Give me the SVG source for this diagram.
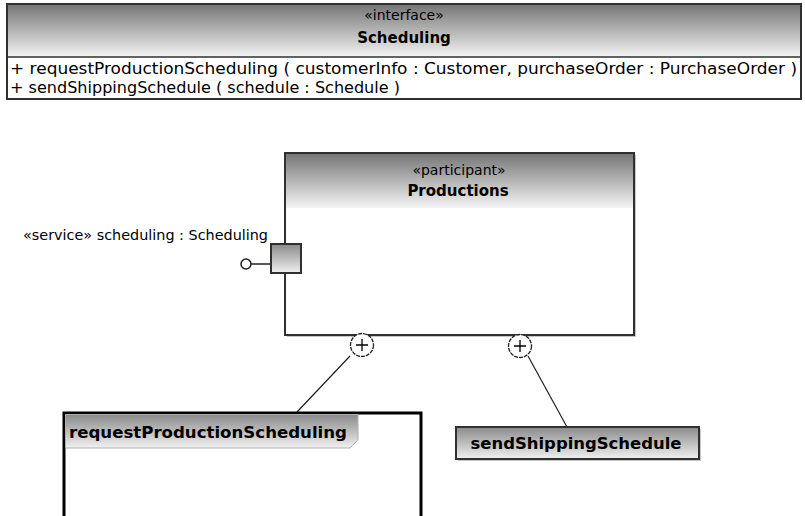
<svg xmlns="http://www.w3.org/2000/svg" width="805" height="516" viewBox="0 0 805 516">
<style>
.t{font-family:"DejaVu Sans","Liberation Sans",sans-serif;fill:#000}
.b{font-weight:bold}
.box{stroke:#303030;stroke-width:2}
.shadow{fill:#c8c8c8}
.conn{stroke:#202020;stroke-width:1.2;fill:none}
.plus{fill:#fff;stroke:#202020;stroke-width:1.3;stroke-dasharray:4 1}
</style>
<defs>
<linearGradient id="hdr" x1="0" y1="0" x2="0" y2="1">
<stop offset="0" stop-color="#777"/>
<stop offset="1" stop-color="#f4f4f4"/>
</linearGradient>
<linearGradient id="gbox" x1="0" y1="0" x2="0" y2="1">
<stop offset="0" stop-color="#8a8a8a"/>
<stop offset="1" stop-color="#f0f0f0"/>
</linearGradient>
</defs>

<g id="scheduling-interface">
<rect x="7" y="4" width="794" height="95" fill="#fff" class="box"/>
<rect x="8" y="5" width="792" height="52" fill="url(#hdr)"/>
<line x1="7" y1="57" x2="801" y2="57" stroke="#303030" stroke-width="1.5"/>
<text class="t" x="404" y="20" font-size="14" text-anchor="middle">«interface»</text>
<text class="t b" x="404" y="43" font-size="15" text-anchor="middle">Scheduling</text>
<text class="t" x="10" y="74" font-size="15" textLength="787" lengthAdjust="spacingAndGlyphs">+ requestProductionScheduling ( customerInfo : Customer, purchaseOrder : PurchaseOrder )</text>
<text class="t" x="10" y="93" font-size="15" textLength="390" lengthAdjust="spacingAndGlyphs">+ sendShippingSchedule ( schedule : Schedule )</text>
</g>

<g id="productions">
<rect x="287" y="155" width="349" height="182" class="shadow"/>
<rect x="285" y="153" width="349" height="182" fill="#fff" class="box"/>
<rect x="286" y="154" width="347" height="54" fill="url(#hdr)"/>
<text class="t" x="459" y="175" font-size="14" text-anchor="middle">«participant»</text>
<text class="t b" x="458" y="196" font-size="15" text-anchor="middle">Productions</text>
</g>

<g id="scheduling-port">
<line x1="251" y1="264" x2="271" y2="264" stroke="#202020" stroke-width="1.5"/>
<circle cx="246" cy="264" r="5" fill="#fff" stroke="#202020" stroke-width="1.5"/>
<rect x="271" y="244" width="30" height="29" fill="url(#gbox)" class="box"/>
<text class="t" x="23" y="240" font-size="14" textLength="245" lengthAdjust="spacingAndGlyphs">«service» scheduling : Scheduling</text>
</g>

<g id="connectors">
<line class="conn" x1="350" y1="356" x2="297" y2="412"/>
<line class="conn" x1="528" y1="356" x2="567" y2="427"/>
</g>

<g id="ownedBehavior1">
<circle cx="362" cy="345" r="11.5" class="plus"/>
<path d="M356 345H368M362 339V351" stroke="#000" stroke-width="1.3"/>
</g>
<g id="ownedBehavior2">
<circle cx="520" cy="346" r="11.5" class="plus"/>
<path d="M514 346H526M520 340V352" stroke="#000" stroke-width="1.3"/>
</g>

<g id="requestProductionScheduling">
<rect x="64" y="413" width="357" height="110" fill="#fff" stroke="#000" stroke-width="3"/>
<path d="M65.5 414.5H358V440L350 448H65.5Z" fill="url(#gbox)" stroke="#b0b0b0" stroke-width="1"/>
<text class="t b" x="69" y="438" font-size="15" textLength="278" lengthAdjust="spacingAndGlyphs">requestProductionScheduling</text>
</g>

<g id="sendShippingSchedule">
<rect x="458" y="429" width="243" height="32" class="shadow"/>
<rect x="456" y="427" width="243" height="32" fill="url(#gbox)" class="box"/>
<text class="t b" x="576" y="449" font-size="15" text-anchor="middle" textLength="211" lengthAdjust="spacingAndGlyphs">sendShippingSchedule</text>
</g>
</svg>
